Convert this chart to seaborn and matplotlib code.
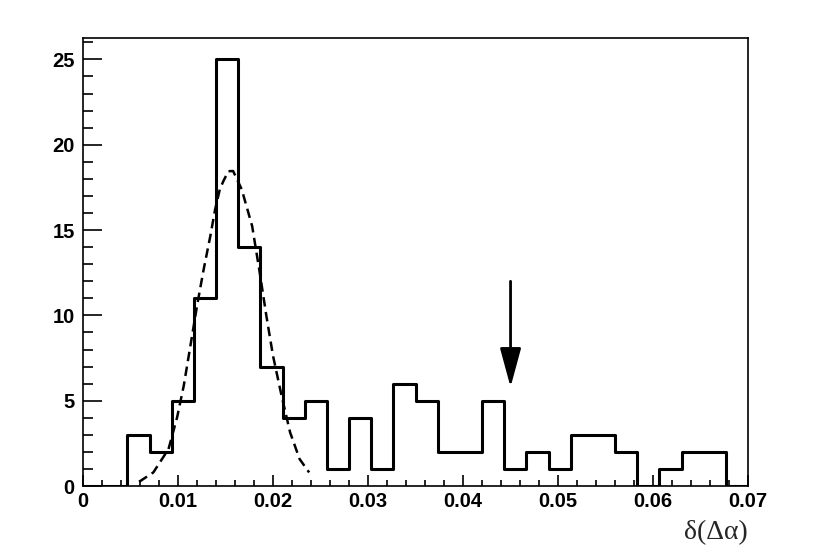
import numpy as np
import pandas as pd
import matplotlib
matplotlib.use("Agg")
import matplotlib.pyplot as plt
from matplotlib.ticker import MultipleLocator, FormatStrFormatter
import seaborn as sns

# histogram: 30 bins between 0 and 0.07
bin_edges = list(np.linspace(0.0, 0.07, 31))
counts = [0, 0, 3, 2, 5, 11, 25, 14, 7, 4,
          5, 1, 4, 1, 6, 5, 2, 2, 5, 1,
          2, 1, 3, 3, 2, 0, 1, 2, 2, 0]

# dashed fit curve
fit_x = [0.0059, 0.0074, 0.0090, 0.0099, 0.0106, 0.0113, 0.0120, 0.0127,
         0.0134, 0.0139, 0.0144, 0.0148, 0.0153, 0.0158, 0.0167, 0.0178,
         0.0186, 0.0193, 0.0200, 0.0209, 0.0218, 0.0228, 0.0238]
fit_y = [0.25, 0.80, 2.17, 4.02, 5.87, 8.21, 10.56, 12.7,
         14.65, 16.2, 17.39, 17.9, 18.45, 18.46, 17.39, 15.24,
         12.51, 9.97, 7.63, 5.29, 3.14, 1.58, 0.80]

# arrow marker
arrow_x = 0.045
arrow_top = 12.0
arrow_tip = 5.8

sns.set_theme(style="ticks")
plt.rcParams["font.family"] = ["Liberation Sans", "DejaVu Sans"]
plt.rcParams["font.weight"] = "bold"

fig = plt.figure(figsize=(8.31, 5.6), dpi=100)
ax = fig.add_axes([0.0999, 0.132, 0.8003, 0.800])

centers = [(a + b) / 2 for a, b in zip(bin_edges[:-1], bin_edges[1:])]
hist_df = pd.DataFrame({"x": centers, "n": counts})
sns.histplot(data=hist_df, x="x", weights="n", bins=bin_edges,
             element="step", fill=False, color="black", linewidth=2.2, ax=ax)

fit_df = pd.DataFrame({"x": fit_x, "y": fit_y})
sns.lineplot(data=fit_df, x="x", y="y", color="black", linewidth=1.8,
             linestyle=(0, (3.8, 2.2)), ax=ax)

ax.annotate("", xy=(arrow_x, arrow_tip), xytext=(arrow_x, arrow_top),
            arrowprops=dict(arrowstyle="-|>,head_length=2.4,head_width=0.65",
                            mutation_scale=10, lw=2.0, color="black",
                            shrinkA=0, shrinkB=0))

ax.set_xlim(0, 0.07)
ax.set_ylim(0, 26.25)
ax.xaxis.set_major_locator(MultipleLocator(0.01))
ax.xaxis.set_minor_locator(MultipleLocator(0.002))
ax.yaxis.set_major_locator(MultipleLocator(5))
ax.yaxis.set_minor_locator(MultipleLocator(1))
ax.xaxis.set_major_formatter(FormatStrFormatter("%g"))
ax.yaxis.set_major_formatter(FormatStrFormatter("%g"))

ax.tick_params(axis="both", which="both", direction="in", top=False, right=False,
               color="black", width=1.2, labelsize=14.5, labelcolor="black")
ax.tick_params(axis="x", which="major", length=8, pad=4)
ax.tick_params(axis="x", which="minor", length=4)
ax.tick_params(axis="y", which="major", length=14, pad=6)
ax.tick_params(axis="y", which="minor", length=7)
for lab in ax.get_xticklabels() + ax.get_yticklabels():
    lab.set_fontweight("bold")

for side in ["top", "bottom", "left", "right"]:
    ax.spines[side].set_visible(True)
    ax.spines[side].set_color("black")
    ax.spines[side].set_linewidth(1.2)

ax.set_ylabel("")
ax.set_xlabel("δ(Δα)", loc="right", labelpad=7, fontsize=20,
              fontweight="normal", family=["Liberation Serif", "DejaVu Serif"])
ax.grid(False)

fig.savefig("out.png", dpi=100, facecolor="white")
